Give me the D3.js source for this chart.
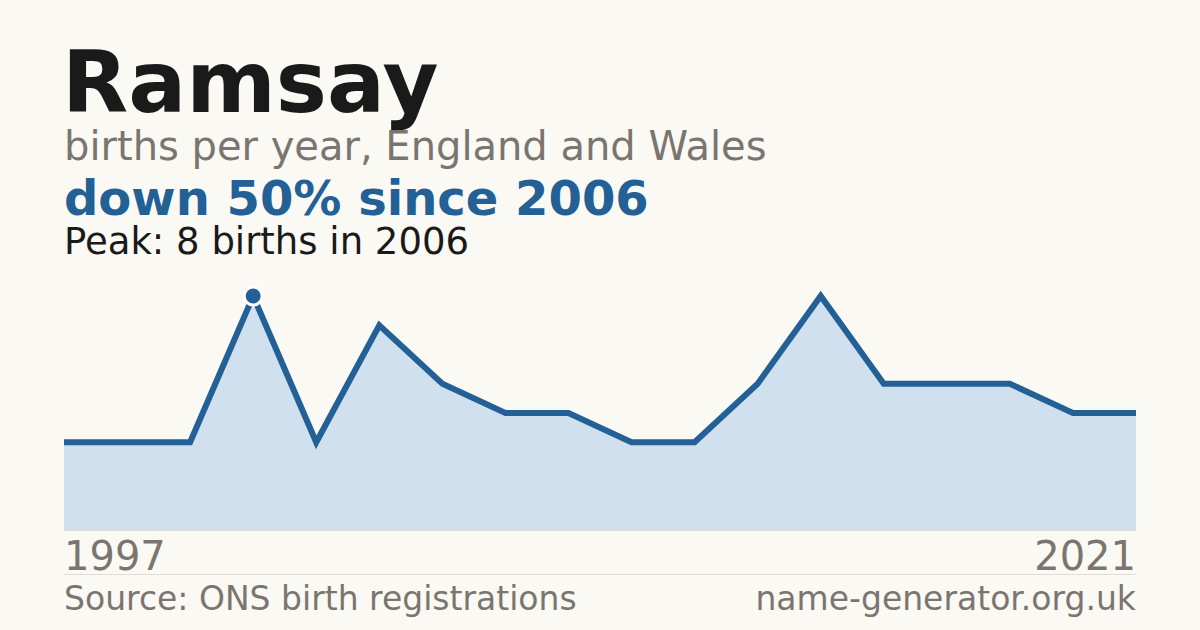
<!DOCTYPE html>
<head>
<meta charset="utf-8">
</head>
<style>
body { margin: 0; background: #faf9f4; }
svg text { font-family: "DejaVu Sans", sans-serif; }
.area { fill: #d0e0ef; }
.line { fill: none; stroke: #226096; stroke-width: 6; stroke-linejoin: miter; }
.muted { fill: #7a766f; }
.rule { stroke: #e0ddd6; stroke-width: 1; }
</style>
<body>
<svg id="chart" width="1200" height="630"></svg>

<script src="https://d3js.org/d3.v7.min.js"></script>
<script>

// years with a recorded count (gaps are suppressed years)
var years = [1997, 2000, 2003, 2006, 2007, 2008, 2009, 2010, 2011, 2012,
             2013, 2014, 2015, 2016, 2017, 2018, 2020, 2021];
var births = [3, 3, 3, 8, 3, 7, 5, 4, 4, 3, 3, 5, 8, 5, 5, 5, 4, 4];
var axisLabels = ["1997", "2021"];

var svg = d3.select("#chart"),
    plotLeft = 64, plotRight = 1136,
    plotTop = 296, plotBottom = 530;

svg.append("rect").attr("width", 1200).attr("height", 630).attr("fill", "#faf9f4");

var x = d3.scalePoint().domain(years).range([plotLeft, plotRight]),
    y = d3.scaleLinear().domain([0, d3.max(births)]).range([plotBottom, plotTop]);

var data = years.map(function(d, i) { return {year: d, n: births[i]}; });

var area = d3.area()
    .x(function(d) { return x(d.year); })
    .y0(plotBottom)
    .y1(function(d) { return y(d.n); });

var line = d3.line()
    .x(function(d) { return x(d.year); })
    .y(function(d) { return y(d.n); });

svg.append("path").datum(data).attr("class", "area").attr("d", area);
svg.append("path").datum(data).attr("class", "line").attr("d", line);

// baseline + footer rule
svg.append("line").attr("class", "rule")
    .attr("x1", plotLeft).attr("x2", plotRight).attr("y1", plotBottom + 0.5).attr("y2", plotBottom + 0.5);
svg.append("line").attr("class", "rule")
    .attr("x1", plotLeft).attr("x2", plotRight).attr("y1", 574.5).attr("y2", 574.5);

// peak marker
var peakIdx = d3.maxIndex(births);
svg.append("circle")
    .attr("cx", x(years[peakIdx]))
    .attr("cy", y(births[peakIdx]))
    .attr("r", 9)
    .attr("fill", "#226096")
    .attr("stroke", "#ffffff")
    .attr("stroke-width", 3);

// titles
svg.append("text").attr("x", 62).attr("y", 112)
    .attr("font-size", 86).attr("font-weight", "bold").attr("fill", "#1a1a1a")
    .text("Ramsay");
svg.append("text").attr("x", 64).attr("y", 160).attr("class", "muted")
    .attr("font-size", 40)
    .text("births per year, England and Wales");

var first = births[peakIdx], last = births[births.length - 1];
var pct = Math.round((first - last) / first * 100);
svg.append("text").attr("x", 64).attr("y", 215)
    .attr("font-size", 48).attr("font-weight", "bold").attr("fill", "#226096")
    .text("down " + pct + "% since " + years[peakIdx]);
svg.append("text").attr("x", 64).attr("y", 254)
    .attr("font-size", 37).attr("fill", "#1a1a1a")
    .text("Peak: " + first + " births in " + years[peakIdx]);

// axis end labels
svg.append("text").attr("x", plotLeft).attr("y", 570).attr("class", "muted")
    .attr("font-size", 40).text(axisLabels[0]);
svg.append("text").attr("x", plotRight).attr("y", 570).attr("class", "muted")
    .attr("font-size", 40).attr("text-anchor", "end").text(axisLabels[1]);

// footer
svg.append("text").attr("x", plotLeft).attr("y", 610).attr("class", "muted")
    .attr("font-size", 33).text("Source: ONS birth registrations");
svg.append("text").attr("x", plotRight).attr("y", 610).attr("class", "muted")
    .attr("font-size", 33).attr("text-anchor", "end").text("name-generator.org.uk");

</script>
</body>
